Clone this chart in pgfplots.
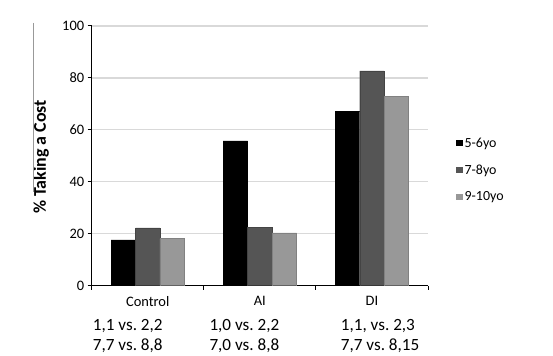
\documentclass[border=0pt]{standalone}
\usepackage{fontspec}
\setmainfont{Carlito}
\usepackage{pgfplots}
\pgfplotsset{compat=1.18}
\definecolor{cA}{RGB}{0,0,0}
\definecolor{cB}{RGB}{85,85,85}
\definecolor{cC}{RGB}{152,152,152}
\definecolor{gridc}{RGB}{217,217,217}
\frenchspacing
\begin{document}
\begin{tikzpicture}[x=1bp,y=1bp]
\useasboundingbox (0,0) rectangle (553,355);
\begin{axis}[
  at={(91.7bp,69.3bp)}, anchor=south west,
  scale only axis, width=336.3bp, height=259.7bp,
  xmin=-0.5, xmax=2.5, ymin=0, ymax=100,
  axis x line=bottom, axis y line=left,
  axis line style={-, line width=1.1bp, black},
  ytick={0,20,40,60,80,100},
  ymajorgrids, grid style={gridc, line width=1.2bp},
  tick align=outside, major tick length=4bp,
  tick style={black, line width=1bp},
  xtick={-0.5,0.5,1.5,2.5}, xticklabels={},
  extra x ticks={0,1,2},
  extra x tick labels={Control,AI,DI},
  extra x tick style={major tick length=0pt, grid=none,
     tick label style={yshift=-7bp}},
  tick label style={font=\fontsize{14.5}{17}\selectfont},
  /pgf/number format/assume math mode=true,
  ybar=0pt, bar width=0.218,
  legend style={at={(1.083,0.578)}, anchor=north west, draw=none, fill=none,
     font=\fontsize{14}{16}\selectfont, row sep=12bp, inner sep=0pt},
  legend cell align=left,
  legend image code/.code={\fill[#1, draw=none] (0bp,-3.2bp) rectangle (6.5bp,3.2bp);},
]
\addplot[fill=cA, draw=black, line width=0.4bp] coordinates {(0,17.6) (1,55.8) (2,67.2)};
\addplot[fill=cB, draw=cB!80!black, line width=0.4bp] coordinates {(0,22.3) (1,22.6) (2,82.7)};
\addplot[fill=cC, draw=cC!85!black, line width=0.4bp] coordinates {(0,18.1) (1,20.3) (2,73.0)};
\legend{5-6yo,7-8yo,9-10yo}
\end{axis}
\node[rotate=90, font=\fontsize{18}{20}\selectfont\bfseries] at (41,198) {\% Taking a Cost};
\draw[gray!80, line width=0.8bp] (33.3,332) -- (33.3,163);
\begin{scope}[every node/.style={anchor=base west, inner sep=0pt, font=\fontsize{17.2}{20}\selectfont}]
\node at (92.7,25) {1,1 vs. 2,2};
\node at (92.7,5) {7,7 vs. 8,8};
\node at (209.3,25) {1,0 vs. 2,2};
\node at (209.3,5) {7,0 vs. 8,8};
\node at (340.7,25) {1,1, vs. 2,3};
\node at (340.7,5) {7,7 vs. 8,15};
\end{scope}
\end{tikzpicture}
\end{document}
